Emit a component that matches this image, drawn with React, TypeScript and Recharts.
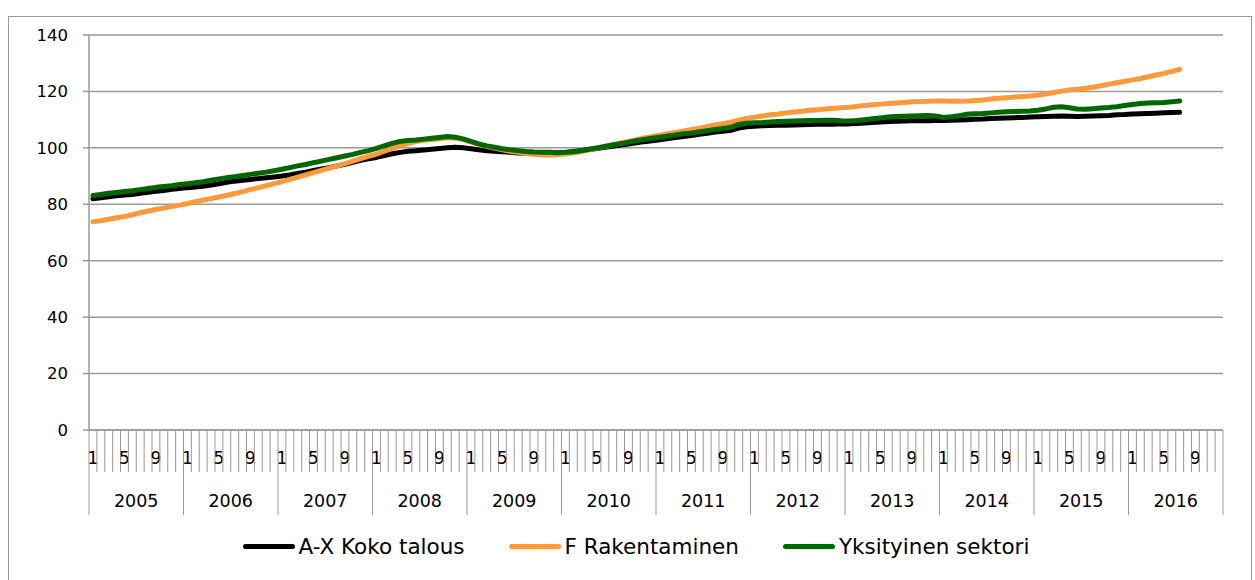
import React from 'react';
import { LineChart, Line, XAxis, YAxis, CartesianGrid } from 'recharts';

// kuukausittaiset indeksit 2005/1 - 2016/7
const years = [2005, 2006, 2007, 2008, 2009, 2010, 2011, 2012, 2013, 2014, 2015, 2016];
const monthLabels = [1, 5, 9];
const yTicks = [0, 20, 40, 60, 80, 100, 120, 140];

const kokoTalous = [
  82.0, 82.3, 82.7, 83.0, 83.3, 83.5, 83.9, 84.3, 84.6, 84.9, 85.3, 85.6,
  85.9, 86.1, 86.4, 86.8, 87.3, 87.8, 88.2, 88.5, 88.8, 89.1, 89.4, 89.7,
  90.0, 90.4, 90.9, 91.4, 92.0, 92.5, 93.0, 93.6, 94.2, 94.9, 95.6, 96.1,
  96.6, 97.3, 97.9, 98.4, 98.8, 99.0, 99.2, 99.5, 99.8, 100.0, 100.2, 100.0,
  99.7, 99.3, 99.0, 98.8, 98.6, 98.4, 98.2, 98.1, 98.1, 98.1, 98.2, 98.2,
  98.4, 98.7, 99.0, 99.4, 99.8, 100.2, 100.6, 101.0, 101.4, 101.8, 102.2, 102.5,
  102.9, 103.3, 103.7, 104.0, 104.4, 104.8, 105.2, 105.6, 105.9, 106.2, 107.0, 107.5,
  107.7, 107.8, 107.9, 108.0, 108.0, 108.1, 108.2, 108.3, 108.4, 108.4, 108.4, 108.5,
  108.5, 108.6, 108.8, 109.0, 109.2, 109.3, 109.4, 109.5, 109.6, 109.6, 109.6, 109.7,
  109.7, 109.8, 109.9, 110.0, 110.1, 110.2, 110.4, 110.5, 110.6, 110.7, 110.8, 110.9,
  111.0, 111.1, 111.2, 111.3, 111.2, 111.1, 111.2, 111.3, 111.4, 111.5, 111.7, 111.8,
  112.0, 112.1, 112.2, 112.3, 112.4, 112.5, 112.6,
];

const rakentaminen = [
  73.8, 74.2, 74.7, 75.2, 75.7, 76.3, 77.0, 77.6, 78.2, 78.7, 79.2, 79.7,
  80.3, 80.9, 81.5, 82.0, 82.6, 83.2, 83.8, 84.5, 85.2, 85.9, 86.6, 87.3,
  88.0, 88.8, 89.6, 90.4, 91.2, 92.0, 92.8, 93.6, 94.4, 95.3, 96.2, 97.0,
  97.8, 98.8, 99.8, 100.8, 101.6, 102.2, 102.7, 103.0, 103.3, 103.6, 103.5, 103.0,
  102.0, 101.2, 100.5, 99.9, 99.3, 98.8, 98.4, 98.0, 97.7, 97.5, 97.5, 97.6,
  97.8, 98.2, 98.7, 99.3, 99.9, 100.5, 101.1, 101.7, 102.3, 102.9, 103.5, 104.0,
  104.5, 105.0, 105.5, 106.0, 106.5, 107.0, 107.6, 108.1, 108.6, 109.1, 109.8, 110.4,
  110.9, 111.3, 111.7, 112.0, 112.4, 112.7, 113.0, 113.3, 113.5, 113.8, 114.0, 114.2,
  114.4, 114.7, 115.0, 115.3, 115.5, 115.7, 115.9, 116.1, 116.3, 116.4, 116.5, 116.6,
  116.6, 116.5, 116.5, 116.6, 116.8, 117.0, 117.3, 117.6, 117.8, 118.0, 118.2, 118.4,
  118.7, 119.1, 119.6, 120.1, 120.5, 120.8, 121.1, 121.5, 122.0, 122.6, 123.1, 123.6,
  124.1, 124.6, 125.2, 125.8, 126.4, 127.1, 127.8,
];

const yksityinen = [
  83.1, 83.5, 83.9, 84.2, 84.5, 84.8, 85.2, 85.6, 86.0, 86.3, 86.6, 87.0,
  87.3, 87.6, 88.0, 88.5, 89.0, 89.4, 89.8, 90.2, 90.6, 91.0, 91.4, 91.9,
  92.4, 93.0, 93.6, 94.1, 94.7, 95.3, 95.9, 96.5, 97.1, 97.7, 98.4, 99.0,
  99.8, 100.7, 101.6, 102.3, 102.6, 102.8, 103.1, 103.4, 103.7, 104.0, 103.8, 103.2,
  102.3, 101.4, 100.7, 100.2, 99.7, 99.3, 99.0, 98.7, 98.5, 98.4, 98.4, 98.3,
  98.4, 98.6, 99.0, 99.5, 100.0, 100.5, 101.0, 101.5, 102.0, 102.5, 103.0, 103.4,
  103.8, 104.2, 104.6, 105.0, 105.3, 105.7, 106.1, 106.5, 106.9, 107.3, 108.3, 108.7,
  108.9, 109.0, 109.2, 109.3, 109.4, 109.5, 109.6, 109.7, 109.7, 109.8, 109.8, 109.6,
  109.5, 109.7, 110.0, 110.3, 110.6, 110.9, 111.1, 111.2, 111.3, 111.4, 111.5, 111.3,
  110.8, 111.0, 111.4, 111.9, 112.1, 112.2, 112.4, 112.6, 112.8, 112.9, 113.0, 113.1,
  113.3, 113.8, 114.4, 114.6, 114.2, 113.8, 113.7, 113.9, 114.1, 114.3, 114.6, 115.0,
  115.4, 115.7, 115.9, 116.0, 116.1, 116.3, 116.6,
];

const series = [
  { key: 'koko', name: 'A-X Koko talous', color: '#000000', values: kokoTalous },
  { key: 'rak', name: 'F Rakentaminen', color: '#FF9A3C', values: rakentaminen },
  { key: 'yks', name: 'Yksityinen sektori', color: '#006600', values: yksityinen },
];

const data = years.flatMap((yr, yi) =>
  Array.from({ length: 12 }, (_, m) => {
    const i = yi * 12 + m;
    const row: any = { label: `${yr}-${m + 1}` };
    series.forEach((s) => {
      row[s.key] = s.values[i];
    });
    return row;
  })
);

const W = 1255;
const H = 580;
const PLOT_LEFT = 89;
const PLOT_RIGHT = 1223;
const PLOT_TOP = 35;
const PLOT_BOTTOM = 430;
const MONTH_ROW = 472;
const YEAR_ROW = 515;
const BAND = (PLOT_RIGHT - PLOT_LEFT) / data.length;
const FONT = "'DejaVu Sans', Verdana, sans-serif";
const GRID = '#9A9A9A';

const MonthTick = (props: any) => {
  const { x, payload } = props;
  const [yr, mo] = String(payload.value).split('-').map(Number);
  const left = x - BAND / 2;
  const isLast = yr === years[years.length - 1] && mo === 12;
  return (
    <g>
      <line x1={left} x2={left} y1={PLOT_BOTTOM} y2={mo === 1 ? YEAR_ROW : MONTH_ROW} stroke={GRID} strokeWidth={1} />
      {isLast && (
        <line x1={left + BAND} x2={left + BAND} y1={PLOT_BOTTOM} y2={YEAR_ROW} stroke={GRID} strokeWidth={1} />
      )}
      {monthLabels.includes(mo) && (
        <text x={x} y={459} textAnchor="middle" dominantBaseline="middle" fontSize={17} fontFamily={FONT} fill="#000">
          {mo}
        </text>
      )}
      {mo === 1 && (
        <text x={left + BAND * 6} y={502} textAnchor="middle" dominantBaseline="middle" fontSize={17.5} fontFamily={FONT} fill="#000">
          {yr}
        </text>
      )}
    </g>
  );
};

export default function App() {
  return (
    <div style={{ position: 'absolute', left: 0, top: 0, width: W, height: H, overflow: 'hidden', background: '#fff' }}>
      <div
        style={{
          position: 'absolute',
          left: 8,
          top: 16,
          width: 1244,
          height: 620,
          border: '1px solid #999',
          boxSizing: 'border-box',
        }}
      />
      <div style={{ position: 'absolute', left: 0, top: 0 }}>
        <LineChart
          width={W}
          height={H}
          data={data}
          margin={{ top: PLOT_TOP, right: W - PLOT_RIGHT, bottom: H - PLOT_BOTTOM - 85, left: 0 }}
        >
          <CartesianGrid vertical={false} stroke={GRID} strokeWidth={1.5} />
          <XAxis
            dataKey="label"
            scale="band"
            interval={0}
            height={85}
            axisLine={{ stroke: GRID, strokeWidth: 1.5 }}
            tickLine={false}
            tick={<MonthTick />}
          />
          <YAxis
            width={PLOT_LEFT}
            domain={[0, 140]}
            ticks={yTicks}
            interval={0}
            axisLine={{ stroke: GRID, strokeWidth: 1.5 }}
            tickLine={{ stroke: GRID, strokeWidth: 1.5 }}
            tickSize={6}
            tickMargin={15}
            tick={{ fill: '#000', fontSize: 16.5, fontFamily: FONT }}
          />
          {series.map((s) => (
            <Line
              key={s.key}
              type="linear"
              dataKey={s.key}
              name={s.name}
              stroke={s.color}
              strokeWidth={5}
              strokeLinecap="round"
              strokeLinejoin="round"
              dot={false}
              activeDot={false}
              isAnimationActive={false}
            />
          ))}
        </LineChart>
      </div>
      <div
        style={{
          position: 'absolute',
          left: 8,
          width: 1256,
          top: 534,
          display: 'flex',
          justifyContent: 'center',
          gap: 44,
          fontFamily: FONT,
          fontSize: 21.5,
          color: '#000',
        }}
      >
        {series.map((s) => (
          <div key={s.key} style={{ display: 'flex', alignItems: 'center', gap: 4 }}>
            <div style={{ width: 52, height: 5, borderRadius: 3, background: s.color }} />
            <span>{s.name}</span>
          </div>
        ))}
      </div>
    </div>
  );
}
